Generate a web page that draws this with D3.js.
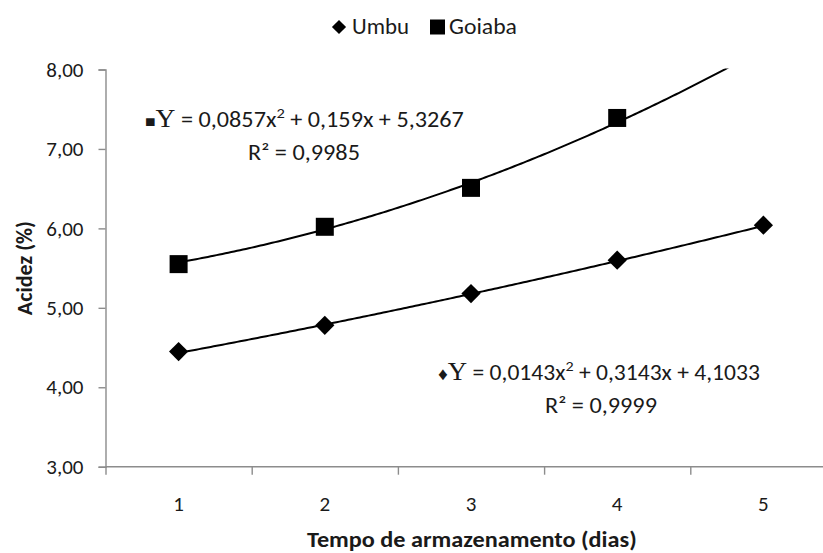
<!DOCTYPE html>
<html>
<head>
<meta charset="utf-8">
<script src="https://cdn.jsdelivr.net/npm/d3@7"></script>
<style>
  html, body { margin: 0; padding: 0; background: #fff; }
  svg { display: block; }
  .sans { font-family: Carlito, Calibri, Lato, "Open Sans", sans-serif; }
</style>
</head>
<body>
<svg id="chart" width="823" height="553"></svg>
<script>
// Storage time (days) and acidity (%) for each fruit
const days = [1, 2, 3, 4, 5];
const umbuDays = [1, 2, 3, 4, 5];
const umbuValues = [4.45, 4.78, 5.18, 5.60, 6.04];
const goiabaDays = [1, 2, 3, 4];
const goiabaValues = [5.55, 6.02, 6.51, 7.39];

// Quadratic trendline coefficients [a, b, c] for y = a x^2 + b x + c
const umbuCoef = [0.0143, 0.3143, 4.1033];
const goiabaCoef = [0.0857, 0.159, 5.3267];
const umbuR2 = "0,9999";
const goiabaR2 = "0,9985";

const yTicks = [3, 4, 5, 6, 7, 8];
const seriesNames = ["Umbu", "Goiaba"];

const svg = d3.select("#chart");
const fmt = v => d3.format(".2f")(v).replace(".", ",");
const fmtCoef = v => String(v).replace(".", ",");

const plot = { left: 105.5, top: 69.5, bottom: 466.7, band: 146.2 };

const x = d3.scaleLinear()
  .domain([0.5, 5.5])
  .range([plot.left, plot.left + 5 * plot.band]);
const y = d3.scaleLinear()
  .domain([3, 8])
  .range([plot.bottom, plot.top]);

const axisColor = "#8c8c8c";
const textColor = "#1a1a1a";
const fontSize = 21;

// Stretch a text element horizontally so it spans the given width from x0
function fitWidth(sel, x0, width) {
  const w = sel.node().getBBox().width;
  const k = width / w;
  sel.attr("transform", `translate(${x0},0) scale(${k},1) translate(${-x0},0)`);
}

// Clip region for the plot area
svg.append("defs").append("clipPath").attr("id", "plotClip")
  .append("rect")
  .attr("x", x(0.5)).attr("y", y(8) - 1)
  .attr("width", x(5.5) - x(0.5)).attr("height", y(3) - y(8) + 1);

// Y axis
const yAxis = svg.append("g")
  .attr("transform", `translate(${plot.left},0)`)
  .call(d3.axisLeft(y).tickValues(yTicks).tickFormat(fmt).tickSize(7).tickPadding(15));
yAxis.select(".domain").attr("stroke", axisColor).attr("stroke-width", 1.4);
yAxis.selectAll(".tick line").attr("stroke", axisColor).attr("stroke-width", 1.4);
yAxis.selectAll(".tick text")
  .attr("class", "sans").attr("font-size", fontSize).attr("fill", textColor);

// X axis: tick marks between categories, labels at category centres
const xAxis = svg.append("g")
  .attr("transform", `translate(0,${plot.bottom})`)
  .call(d3.axisBottom(x).tickValues([0.5, 1.5, 2.5, 3.5, 4.5, 5.5]).tickFormat("").tickSize(8));
xAxis.select(".domain").attr("stroke", axisColor).attr("stroke-width", 1.4)
  .attr("d", `M${x(0.5)},0H${x(5.5)}`);
xAxis.selectAll(".tick line").attr("stroke", axisColor).attr("stroke-width", 1.4);

svg.append("g").selectAll("text")
  .data(days)
  .join("text")
  .attr("class", "sans")
  .attr("x", d => x(d))
  .attr("y", plot.bottom + 44)
  .attr("text-anchor", "middle")
  .attr("font-size", fontSize)
  .attr("fill", textColor)
  .text(d => d);

// Trendlines
const poly = c => t => c[0] * t * t + c[1] * t + c[2];
const curve = (c) => d3.range(1, 5.0001, 0.02).map(t => [t, poly(c)(t)]);
const line = d3.line().x(d => x(d[0])).y(d => y(d[1]));

const lines = svg.append("g").attr("clip-path", "url(#plotClip)");
[umbuCoef, goiabaCoef].forEach(c => {
  lines.append("path")
    .datum(curve(c))
    .attr("d", line)
    .attr("fill", "none")
    .attr("stroke", "#000")
    .attr("stroke-width", 2);
});

// Markers
svg.append("g").selectAll("path")
  .data(umbuDays.map((d, i) => [d, umbuValues[i]]))
  .join("path")
  .attr("transform", d => `translate(${x(d[0])},${y(d[1])}) rotate(45)`)
  .attr("d", "M-6.8,-6.8H6.8V6.8H-6.8Z")
  .attr("fill", "#000");

svg.append("g").selectAll("rect")
  .data(goiabaDays.map((d, i) => [d, goiabaValues[i]]))
  .join("rect")
  .attr("x", d => x(d[0]) - 9)
  .attr("y", d => y(d[1]) - 9)
  .attr("width", 18)
  .attr("height", 18)
  .attr("fill", "#000");

// Equation labels
function equation(xPos, yPos, symbol, symSize, coef, width1, r2, r2x, width2) {
  const t = svg.append("text").attr("class", "sans")
    .attr("x", xPos).attr("y", yPos).attr("font-size", 22).attr("fill", textColor);
  t.append("tspan").attr("font-size", symSize).text(symbol);
  t.append("tspan").attr("font-family", "'Liberation Serif', 'Times New Roman', serif")
    .attr("font-size", 25).text("Y");
  t.append("tspan").text(` = ${fmtCoef(coef[0])}x`);
  t.append("tspan").attr("font-size", 15).attr("dy", -9).text("2");
  t.append("tspan").attr("dy", 9).text(` + ${fmtCoef(coef[1])}x + ${fmtCoef(coef[2])}`);
  fitWidth(t, xPos, width1);
  const r = svg.append("text").attr("class", "sans")
    .attr("x", r2x).attr("y", yPos + 33).attr("font-size", 22).attr("fill", textColor)
    .text(`R² = ${r2}`);
  fitWidth(r, r2x, width2);
}
equation(145, 127, "■", 16, goiabaCoef, 319, goiabaR2, 248, 112);
equation(438, 380, "♦", 18, umbuCoef, 322, umbuR2, 545, 112);

// Legend
const legend = svg.append("g").attr("class", "sans");
legend.append("path")
  .attr("transform", "translate(339,27) rotate(45)")
  .attr("d", "M-5,-5H5V5H-5Z").attr("fill", "#000");
const legUmbu = legend.append("text").attr("x", 352).attr("y", 34).attr("font-size", 22)
  .attr("fill", textColor).text(seriesNames[0]);
fitWidth(legUmbu, 352, 57);
legend.append("rect").attr("x", 430).attr("y", 19.5).attr("width", 15).attr("height", 15)
  .attr("fill", "#000");
const legGoiaba = legend.append("text").attr("x", 449).attr("y", 34).attr("font-size", 22)
  .attr("fill", textColor).text(seriesNames[1]);
fitWidth(legGoiaba, 449, 68);

// Axis titles
svg.append("text").attr("class", "sans")
  .attr("transform", `translate(32,${(y(3) + y(8)) / 2}) rotate(-90)`)
  .attr("text-anchor", "middle").attr("font-size", 22).attr("font-weight", "bold")
  .attr("fill", textColor).text("Acidez (%)");

const xTitle = svg.append("text").attr("class", "sans")
  .attr("x", 307).attr("y", 547)
  .attr("font-size", 22).attr("font-weight", "bold")
  .attr("fill", textColor).text("Tempo de armazenamento (dias)");
fitWidth(xTitle, 307, 330);
</script>
</body>
</html>
